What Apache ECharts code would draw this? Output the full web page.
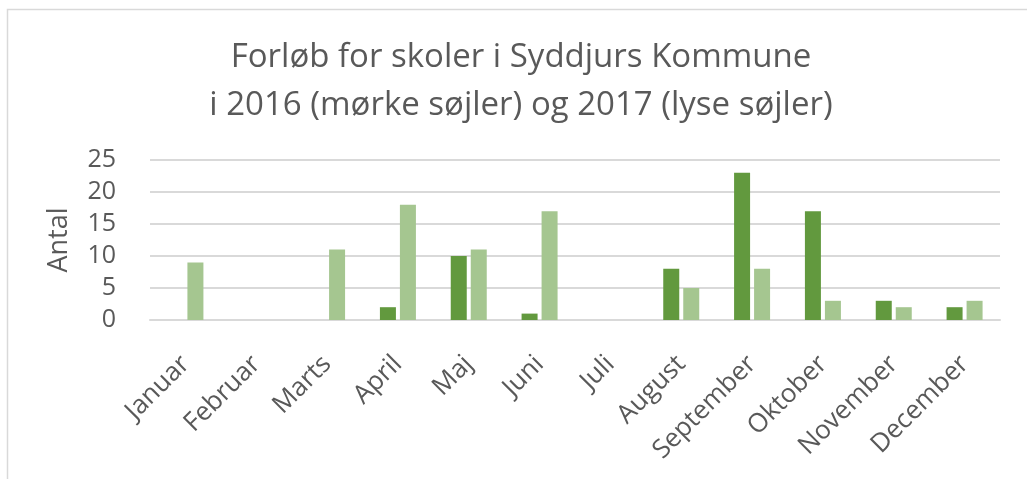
<!DOCTYPE html>
<html>
<head>
<meta charset="utf-8">
<script src="https://cdn.jsdelivr.net/npm/echarts@6/dist/echarts.min.js"></script>
<style>
  html, body { margin: 0; padding: 0; background: #fff; }
  #chart { width: 1027px; height: 479px; }
</style>
</head>
<body>
<div id="chart"></div>
<script>
const months = ['Januar', 'Februar', 'Marts', 'April', 'Maj', 'Juni', 'Juli', 'August', 'September', 'Oktober', 'November', 'December']
const values2016 = [0, 0, 0, 2, 10, 1, 0, 8, 23, 17, 3, 2]
const values2017 = [9, 0, 11, 18, 11, 17, 0, 5, 8, 3, 2, 3]
const yTicks = { min: 0, max: 25, interval: 5 }

const textColor = '#595959'
const chart = echarts.init(document.getElementById('chart'))

const option = {
    animation: false,
    backgroundColor: '#fff',
    graphic: [
        {
            type: 'rect',
            shape: { x: 7.5, y: 9.5, width: 1100, height: 600 },
            style: { fill: 'none', stroke: '#d9d9d9', lineWidth: 1.5 },
            silent: true
        }
    ],
    title: {
        text: 'Forløb for skoler i Syddjurs Kommune\ni 2016 (mørke søjler) og 2017 (lyse søjler)',
        left: 516,
        textAlign: 'center',
        top: 29,
        textStyle: {
            color: textColor,
            fontFamily: 'Open Sans',
            fontWeight: 'normal',
            fontSize: 33,
            lineHeight: 48
        }
    },
    grid: {
        left: 150,
        right: 27,
        top: 160,
        bottom: 159
    },
    xAxis: {
        type: 'category',
        data: months,
        axisLine: { show: true, lineStyle: { color: '#d9d9d9', width: 2 } },
        axisTick: { show: false },
        axisLabel: {
            rotate: 45,
            interval: 0,
            margin: 40,
            color: textColor,
            fontFamily: 'Open Sans',
            fontSize: 26
        }
    },
    yAxis: {
        type: 'value',
        min: yTicks.min,
        max: yTicks.max,
        interval: yTicks.interval,
        name: 'Antal',
        nameLocation: 'middle',
        nameRotate: 90,
        nameGap: 77,
        nameTextStyle: {
            color: textColor,
            fontFamily: 'Open Sans',
            fontSize: 27
        },
        axisLine: { show: false },
        axisTick: { show: false },
        axisLabel: {
            margin: 34,
            color: textColor,
            fontFamily: 'Open Sans',
            fontSize: 25
        },
        splitLine: { lineStyle: { color: '#d9d9d9', width: 2 } }
    },
    series: [
        {
            name: '2016',
            type: 'bar',
            data: values2016,
            barWidth: 16,
            barGap: '25%',
            itemStyle: { color: '#62993e' }
        },
        {
            name: '2017',
            type: 'bar',
            data: values2017,
            barWidth: 16,
            itemStyle: { color: '#a5c690' }
        }
    ]
}

chart.setOption(option)
</script>
</body>
</html>
